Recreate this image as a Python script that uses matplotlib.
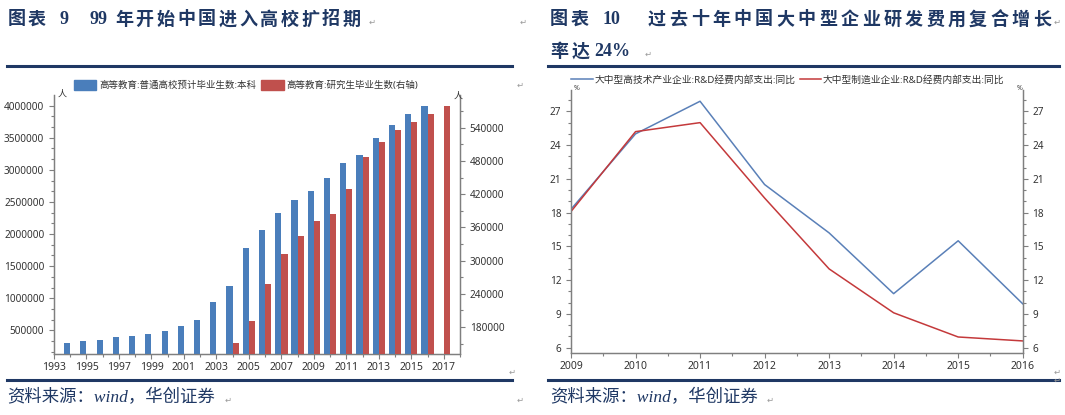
import matplotlib

matplotlib.use("Agg")
import matplotlib.pyplot as plt
from matplotlib.patches import Patch
from matplotlib.lines import Line2D
from matplotlib.ticker import AutoMinorLocator, FixedLocator, MultipleLocator

plt.rcParams["font.family"] = ["Noto Sans", "Noto Sans CJK SC", "DejaVu Sans"]

# --- data: figure 9 (graduates) ---
UG_YEARS = list(range(1994, 2017))
UG_GRADS = [307900, 328600, 349400, 390900, 411700, 448000, 494800, 572600,
            661000, 936200, 1195800, 1787800, 2057900, 2322700, 2525300,
            2665500, 2868000, 3112000, 3226300, 3491200, 3698900, 3875300,
            3989700]
PG_YEARS = list(range(2004, 2018))
PG_GRADS = [151700, 191400, 257100, 312400, 344900, 372000, 383500, 429800,
            486400, 513500, 536400, 550800, 564100, 578500]
UG_LABEL = "高等教育:普通高校预计毕业生数:本科"
PG_LABEL = "高等教育:研究生毕业生数(右轴)"
LEFT_TICKS = [500000, 1000000, 1500000, 2000000, 2500000, 3000000, 3500000, 4000000]
RIGHT_TICKS = [180000, 240000, 300000, 360000, 420000, 480000, 540000]
X1_TICKS = list(range(1993, 2018, 2))

# --- data: figure 10 (R&D growth) ---
RD_YEARS = [2009, 2010, 2011, 2012, 2013, 2014, 2015, 2016]
HITECH_YOY = [18.3, 25.0, 27.9, 20.5, 16.2, 10.8, 15.5, 9.9]
MANUF_YOY = [18.1, 25.2, 26.0, 19.3, 13.0, 9.1, 6.95, 6.6]
HITECH_LABEL = "大中型高技术产业企业:R&D经费内部支出:同比"
MANUF_LABEL = "大中型制造业企业:R&D经费内部支出:同比"
PCT_TICKS = [6, 9, 12, 15, 18, 21, 24, 27]

BLUE = "#4a7ebb"
RED = "#c0504d"
LINE_BLUE = "#5a80b8"
LINE_RED = "#c4393b"
NAVY = "#1f3864"
SPINE = "#7f7f7f"
TICKC = "#333333"
W, H = 1065, 415
TITLE_FONT = ["Liberation Serif", "Noto Sans CJK SC"]
TSIZE = 13


def px(x, y):
    return x / W, 1 - y / H


def spaced(fig, x0, y, text, pitch, size=TSIZE):
    # the word-processor title is letter-spaced, so place glyph by glyph
    for i, ch in enumerate(text):
        fig.text(*px(x0 + i * pitch, y), ch, fontsize=size, fontweight="bold",
                 color=NAVY, family=TITLE_FONT, va="center", ha="left")


def style_axis(ax):
    ax.spines["top"].set_visible(False)
    for s in ("left", "right", "bottom"):
        ax.spines[s].set_color(SPINE)
        ax.spines[s].set_linewidth(0.9)
    ax.tick_params(which="both", colors=SPINE, labelcolor=TICKC, labelsize=7.2)
    ax.tick_params(which="major", length=3.5, width=0.8)
    ax.tick_params(which="minor", length=2, width=0.8)


def main() -> None:
    fig = plt.figure(figsize=(W / 100, H / 100), dpi=100)

    # ---------------- headers / rules / sources ----------------
    spaced(fig, 8, 20, "图表", 20)
    fig.text(*px(60, 20), "9", fontsize=TSIZE, fontweight="bold", color=NAVY,
             family=TITLE_FONT, va="center")
    fig.text(*px(89, 20), "99", fontsize=TSIZE, fontweight="bold", color=NAVY,
             family=TITLE_FONT, va="center")
    spaced(fig, 115, 20, "年开始中国进入高校扩招期", 20.7)

    spaced(fig, 550, 20, "图表", 20.5)
    fig.text(*px(603, 20), "10", fontsize=TSIZE, fontweight="bold", color=NAVY,
             family=TITLE_FONT, va="center")
    spaced(fig, 648, 20, "过去十年中国大中型企业研发费用复合增长", 21.4)
    spaced(fig, 550, 52, "率达", 21.4)
    fig.text(*px(594, 52), "24%", fontsize=TSIZE, fontweight="bold", color=NAVY,
             family=TITLE_FONT, va="center")

    for x0, x1 in ((7, 512), (548, 1059)):
        fig.add_artist(Line2D([x0 / W, x1 / W], [1 - 66 / H] * 2, color=NAVY, lw=2.2))
        fig.add_artist(Line2D([x0 / W, x1 / W], [1 - 380 / H] * 2, color=NAVY, lw=2.2))
    for x0 in (7, 550):
        fig.text(*px(x0, 398), "资料来源：wind，华创证券", fontsize=12.5, color=NAVY,
                 family=TITLE_FONT, style="italic", va="center")

    for x, y in ((372, 22), (523, 22), (648, 54), (1057, 22), (520, 85),
                 (512, 372), (1057, 372), (228, 400), (520, 400), (770, 400),
                 (1057, 380)):
        fig.text(*px(x, y), "↵", fontsize=6, color="#999999", family="DejaVu Sans",
                 va="center", ha="center")

    # ---------------- figure 9: bars ----------------
    l, b = px(54, 354.3)
    r, t = px(460, 95)
    ax = fig.add_axes([l, b, r - l, t - b])
    ax2 = ax.twinx()
    bw = 0.38
    ax.bar([y - bw / 2 for y in UG_YEARS], UG_GRADS, width=bw, color=BLUE, zorder=3)
    ax2.bar([y + bw / 2 for y in PG_YEARS], PG_GRADS, width=bw, color=RED, zorder=3)
    ax.set_xlim(1993, 2018)
    ax.set_ylim(126000, 4166000)
    ax2.set_ylim(130700, 599000)
    ax.set_xticks(X1_TICKS)
    ax.xaxis.set_minor_locator(MultipleLocator(1))
    ax.set_yticks(LEFT_TICKS)
    ax.set_yticklabels([str(v) for v in LEFT_TICKS])
    ax.yaxis.set_minor_locator(AutoMinorLocator(3))
    ax2.set_yticks(RIGHT_TICKS)
    ax2.set_yticklabels([str(v) for v in RIGHT_TICKS])
    ax2.yaxis.set_minor_locator(AutoMinorLocator(2))
    for a in (ax, ax2):
        style_axis(a)
    ax.tick_params(axis="x", labelsize=7.5, pad=2)
    fig.text(*px(58, 94), "人", fontsize=6.5, color=TICKC, va="center")
    fig.text(*px(454, 96), "人", fontsize=6.5, color=TICKC, va="center")

    handles = [Patch(color=BLUE), Patch(color=RED)]
    fig.legend(handles, [UG_LABEL, PG_LABEL], ncol=2, frameon=False,
               loc="center", bbox_to_anchor=px(246, 85), fontsize=6.8,
               handlelength=2.4, handleheight=1.3, handletextpad=0.3,
               columnspacing=0.5, labelcolor=TICKC)

    # ---------------- figure 10: lines ----------------
    l, b = px(571, 353.3)
    r, t = px(1022.7, 90)
    bx = fig.add_axes([l, b, r - l, t - b])
    bx2 = bx.twinx()
    bx.plot(RD_YEARS, HITECH_YOY, color=LINE_BLUE, lw=1.1, label=HITECH_LABEL)
    bx.plot(RD_YEARS, MANUF_YOY, color=LINE_RED, lw=1.1, label=MANUF_LABEL)
    bx.set_xlim(2009, 2016)
    for a in (bx, bx2):
        a.set_ylim(5.5, 28.9)
        a.set_yticks(PCT_TICKS)
        a.yaxis.set_minor_locator(FixedLocator([v for v in range(6, 29)]))
        style_axis(a)
    bx.set_xticks(RD_YEARS)
    bx.xaxis.set_minor_locator(MultipleLocator(0.5))
    bx.tick_params(axis="x", labelsize=7.5, pad=2)
    fig.text(*px(574, 89), "%", fontsize=5, color=TICKC, va="center", fontweight="bold")
    fig.text(*px(1017, 89), "%", fontsize=5, color=TICKC, va="center", fontweight="bold")

    fig.legend(*bx.get_legend_handles_labels(), ncol=2, frameon=False,
               loc="center", bbox_to_anchor=px(788, 80), fontsize=7,
               handlelength=2.2, handletextpad=0.2, columnspacing=0.4,
               labelcolor=TICKC)

    fig.savefig("out.png", dpi=100)
    plt.close(fig)


if __name__ == "__main__":
    main()
